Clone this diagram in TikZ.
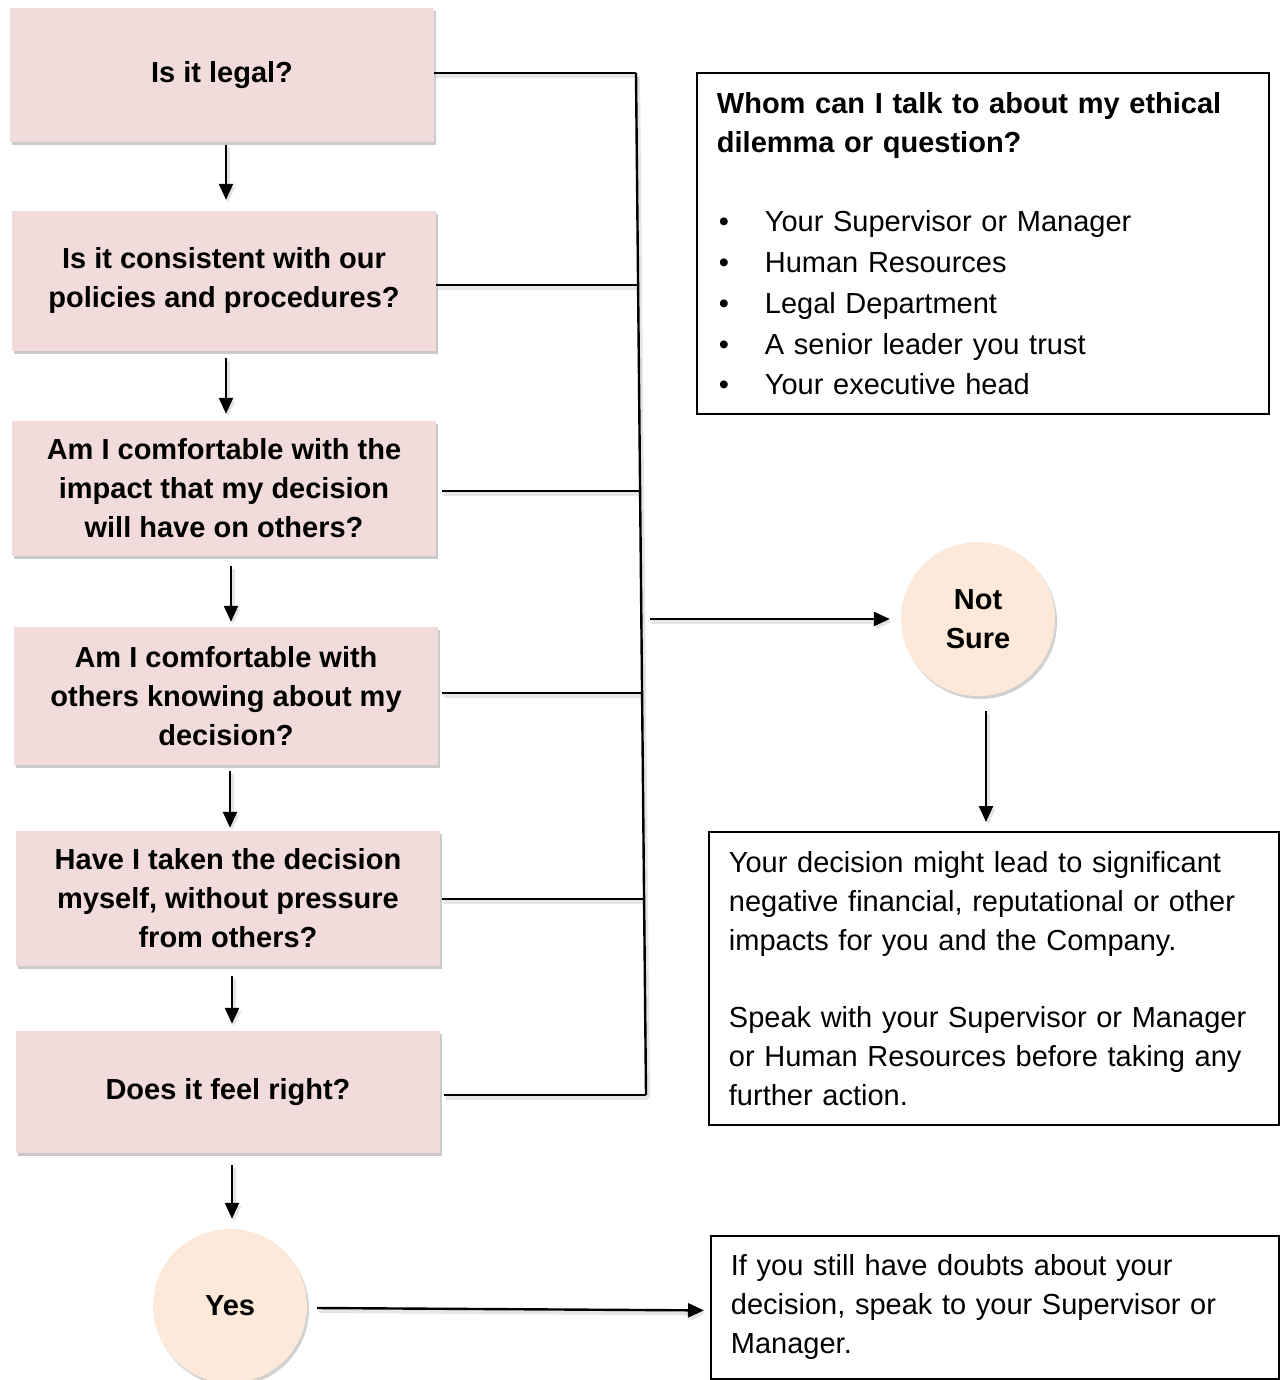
\documentclass[tikz,border=0pt]{standalone}
\usepackage{fontspec}
\setmainfont{Liberation Sans}
\usetikzlibrary{arrows.meta,shadows,calc}
\definecolor{qpink}{HTML}{F2DCDB}
\definecolor{peach}{HTML}{FDE9D9}
\begin{document}
\begin{tikzpicture}[x=1pt,y=-1pt,
  qbox/.style={rectangle, fill=qpink, minimum width=424pt, align=center, inner sep=0pt,
    font=\fontsize{29}{39}\selectfont\bfseries,
    drop shadow={shadow xshift=2pt, shadow yshift=-3pt, opacity=0.35, fill=black!60}},
  qcirc/.style={circle, fill=peach, minimum size=154pt, align=center, inner sep=0pt,
    font=\fontsize{29}{39}\selectfont\bfseries,
    drop shadow={shadow xshift=2pt, shadow yshift=-3pt, opacity=0.3, fill=black!60}},
  infobox/.style={rectangle, draw=black, line width=1.8pt, align=left, inner xsep=20pt, inner ysep=0pt,
    font=\fontsize{29}{39}\selectfont},
  conn/.style={line width=2.4pt, draw=black,
    preaction={draw=black!10, line width=4pt, transform canvas={shift={(2pt,-3pt)}}}},
  arr/.style={conn, -{Triangle[length=16pt,width=14pt]}}
]
\useasboundingbox (0,0) rectangle (1279,1380);

% question boxes
\node[qbox, minimum height=134pt] (b1) at (222,75) {Is it legal?};
\node[qbox, minimum height=140pt] (b2) at (224,281) {Is it consistent with our\\policies and procedures?};
\node[qbox, minimum height=135pt] (b3) at (224,488.5) {Am I comfortable with the\\impact that my decision\\will have on others?};
\node[qbox, minimum height=138pt] (b4) at (226,696) {Am I comfortable with\\others knowing about my\\decision?};
\node[qbox, minimum height=135pt] (b5) at (228,898.5) {Have I taken the decision\\myself, without pressure\\from others?};
\node[qbox, minimum height=122pt] (b6) at (228,1092) {Does it feel right?};

% circles
\node[qcirc] (ns) at (978,619) {Not\\Sure};
\node[qcirc] (yes) at (230,1306) {Yes};

% info boxes
\node[infobox, anchor=north west, text width=532pt, minimum height=341pt] (who) at (696,72)
  {\textbf{Whom can I talk to about my ethical}\\\textbf{dilemma or question?}\\[40pt]
   \hspace*{2pt}\makebox[46pt][l]{•}Your Supervisor or Manager\\[2pt]
   \hspace*{2pt}\makebox[46pt][l]{•}Human Resources\\[2pt]
   \hspace*{2pt}\makebox[46pt][l]{•}Legal Department\\[2pt]
   \hspace*{2pt}\makebox[46pt][l]{•}A senior leader you trust\\[1pt]
   \hspace*{2pt}\makebox[46pt][l]{•}Your executive head\\[4pt]};
\node[infobox, anchor=north west, text width=530pt, minimum height=293pt] (dec) at (708,831)
  {Your decision might lead to significant\\negative financial, reputational or other\\impacts for you and the Company.\\[38pt]
   Speak with your Supervisor or Manager\\or Human Resources before taking any\\further action.\\[4pt]};
\node[infobox, anchor=north west, text width=528pt, minimum height=143pt] (doubt) at (710,1235)
  {If you still have doubts about your\\decision, speak to your Supervisor or\\Manager.\\[2pt]};

% spine coordinates
\coordinate (j1) at (636,73);
\coordinate (j2) at (638,285);
\coordinate (j3) at (640,491);
\coordinate (j4) at (642,693);
\coordinate (j5) at (644,899);
\coordinate (j6) at (646,1095);
\coordinate (jn) at (650,619);

% horizontal feeders
\draw[conn] (b1.east |- j1) -- (j1);
\draw[conn] (b2.east |- j2) -- (j2);
\draw[conn] ([xshift=6pt]b3.east |- j3) -- (j3);
\draw[conn] ([xshift=4pt]b4.east |- j4) -- (j4);
\draw[conn] ([xshift=2pt]b5.east |- j5) -- (j5);
\draw[conn] ([xshift=4pt]b6.east |- j6) -- (j6);
\draw[conn] (j1) -- (j6);

% to Not Sure
\draw[arr, shorten >=11pt] (jn) -- (ns.west);

% vertical arrows between boxes
\draw[arr] ([xshift=4pt,yshift=-3pt]b1.south) -- ([xshift=4pt,yshift=11pt]b1.south |- b2.north);
\draw[arr] ([xshift=2pt,yshift=-7pt]b2.south) -- ([xshift=2pt,yshift=7pt]b2.south |- b3.north);
\draw[arr] ([xshift=7pt,yshift=-10pt]b3.south) -- ([xshift=7pt,yshift=5pt]b3.south |- b4.north);
\draw[arr] ([xshift=4pt,yshift=-6pt]b4.south) -- ([xshift=4pt,yshift=3pt]b4.south |- b5.north);
\draw[arr] ([xshift=4pt,yshift=-10pt]b5.south) -- ([xshift=4pt,yshift=7pt]b5.south |- b6.north);
\draw[arr] ([xshift=4pt,yshift=-12pt]b6.south) -- ([xshift=4pt,yshift=10pt]b6.south |- yes.north);

% from Not Sure down
\draw[arr] ([xshift=8pt,yshift=-15pt]ns.south) -- ([xshift=8pt,yshift=9pt]ns.south |- dec.north);

% Yes to doubts
\draw[arr] ([xshift=10pt,yshift=-2pt]yes.east) -- ([xshift=-6pt,yshift=-3pt]doubt.west);
\end{tikzpicture}
\end{document}
